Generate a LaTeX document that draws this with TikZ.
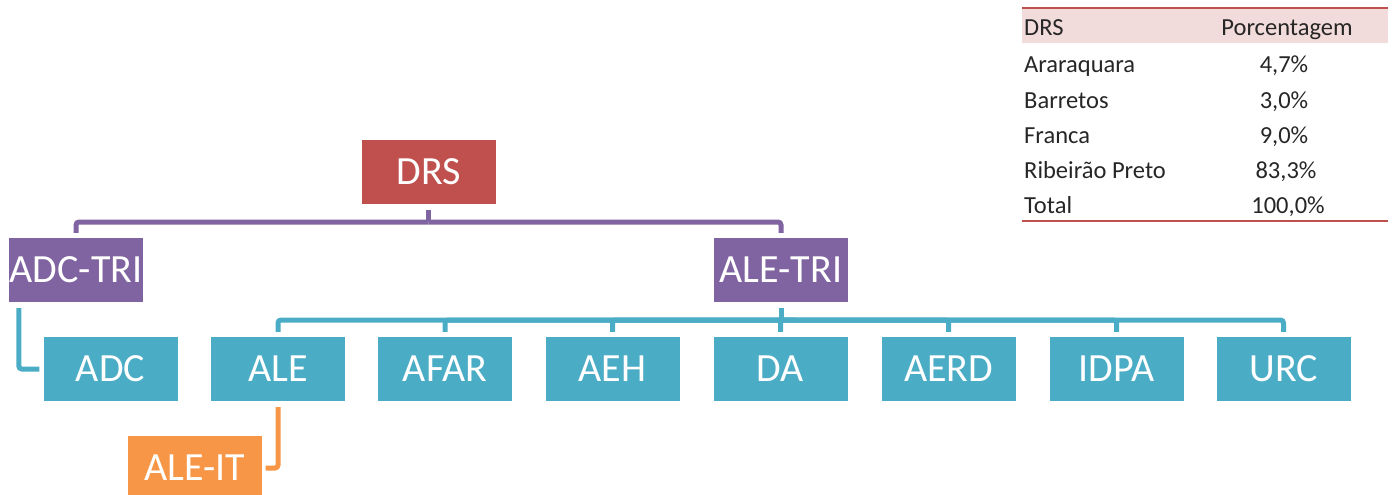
\documentclass[tikz,border=0pt]{standalone}
\usepackage{fontspec}
\setmainfont{Carlito}
\begin{document}
\begin{tikzpicture}[x=1pt,y=-1pt,
  box/.style={draw=none,minimum width=134pt,minimum height=64pt,inner sep=0pt,text=white,font=\fontsize{40}{40}\selectfont},
  redbox/.style={box,fill=myred},
  purbox/.style={box,fill=mypurple},
  tealbox/.style={box,fill=myteal},
  orabox/.style={box,fill=myorange},
  pline/.style={draw=mypurple,line width=5pt,rounded corners=3pt,shorten <=6pt,shorten >=5pt},
  tline/.style={draw=myteal,line width=5pt,rounded corners=3pt,shorten <=6pt,shorten >=5pt},
  oline/.style={draw=myorange,line width=5pt,rounded corners=3pt,shorten <=6pt,shorten >=5pt},
  tab/.style={font=\fontsize{24.5}{24.5}\selectfont,inner sep=0pt,text=black!85},
  tabl/.style={tab,anchor=base west},
  tabr/.style={tab,anchor=base}
]
\definecolor{myred}{HTML}{C0504D}
\definecolor{mypurple}{HTML}{8064A2}
\definecolor{myteal}{HTML}{4BACC6}
\definecolor{myorange}{HTML}{F79646}
\definecolor{mypink}{HTML}{F2DCDB}
\useasboundingbox (0,0) rectangle (1393,495);

\node[redbox] (drs) at (428.5,172) {DRS};
\node[purbox] (adctri) at (76,270) {ADC-TRI};
\node[purbox] (aletri) at (781,270) {ALE-TRI};
\node[tealbox] (adc) at (110.5,369) {ADC};
\node[tealbox] (ale) at (278,369) {ALE};
\node[tealbox] (afar) at (445,369) {AFAR};
\node[tealbox] (aeh) at (612.5,369) {AEH};
\node[tealbox] (da) at (780.5,369) {DA};
\node[tealbox] (aerd) at (948.5,369) {AERD};
\node[tealbox] (idpa) at (1116.5,369) {IDPA};
\node[tealbox] (urc) at (1283.5,369) {URC};
\node[orabox] (aleit) at (194.5,468) {ALE-IT};

\coordinate (pbus) at (428.5,222);
\coordinate (tbus) at (781,320);
\draw[pline,shorten >=0pt] (drs.south) -- (pbus);
\draw[pline,shorten <=0pt] (pbus) -| (adctri.north);
\draw[pline,shorten <=0pt] (pbus) -| (aletri.north);
\draw[tline,shorten >=0pt] (aletri.south) -- (tbus);
\foreach \n in {ale,afar,aeh,da,aerd,idpa,urc}
  \draw[tline,shorten <=0pt] (tbus) -| (\n.north);
\draw[tline,shorten >=4pt] ([xshift=10pt]adctri.south west) |- (adc.west);
\draw[oline,shorten >=4pt] (ale.south) |- (aleit.east);

% table
\fill[mypink] (1022,9) rectangle (1388,43);
\draw[myred,line width=2pt] (1022,8) -- (1388,8);
\draw[myred,line width=2pt] (1022,221) -- (1388,221);
\node[tabl] (h1) at (1024,36) {DRS};
\node[tabr] (h2) at (1287,36) {Porcentagem};
\node[tabl] (r1) at (1024,73) {Araraquara};
\node[tabr] (v1) at (1284,73) {4,7\%};
\node[tabl] (r2) at (1024,108) {Barretos};
\node[tabr] (v2) at (1284,108) {3,0\%};
\node[tabl] (r3) at (1024,143) {Franca};
\node[tabr] (v3) at (1284,143) {9,0\%};
\node[tabl] (r4) at (1024,178) {Ribeirão Preto};
\node[tabr] (v4) at (1286,178) {83,3\%};
\node[tabl] (r5) at (1024,213) {Total};
\node[tabr] (v5) at (1288,213) {100,0\%};
\end{tikzpicture}
\end{document}
